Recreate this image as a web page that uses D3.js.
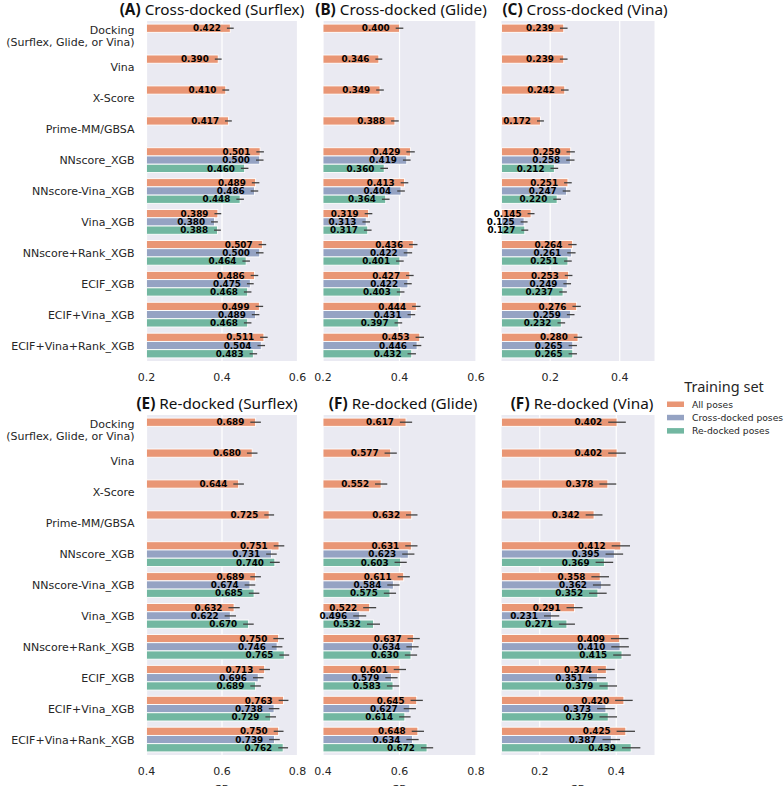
<!DOCTYPE html>
<html>
<head>
<meta charset="utf-8">
<script src="https://cdn.jsdelivr.net/npm/d3@7"></script>
<style>
  body { margin: 0; background: #fff; }
  #chart { width: 784px; height: 786px; }
</style>
</head>
<body>
<div id="chart"></div>
<script>
// categories (top to bottom) and training-set hues
const categories = [
  "Docking\n(Surflex, Glide, or Vina)", "Vina", "X-Score", "Prime-MM/GBSA",
  "NNscore_XGB", "NNscore-Vina_XGB", "Vina_XGB", "NNscore+Rank_XGB",
  "ECIF_XGB", "ECIF+Vina_XGB", "ECIF+Vina+Rank_XGB"
];
const hues = ["All poses", "Cross-docked poses", "Re-docked poses"];
const N = null;

// (A) Cross-docked (Surflex)
const aAll   = [0.422, 0.390, 0.410, 0.417, 0.501, 0.489, 0.389, 0.507, 0.486, 0.499, 0.511];
const aCross = [N, N, N, N, 0.500, 0.486, 0.380, 0.500, 0.475, 0.489, 0.504];
const aRe    = [N, N, N, N, 0.460, 0.448, 0.388, 0.464, 0.468, 0.468, 0.483];
const aErrAll   = [0.009, 0.009, 0.009, 0.009, 0.010, 0.010, 0.009, 0.010, 0.010, 0.010, 0.010];
const aErrCross = [N, N, N, N, 0.010, 0.010, 0.009, 0.010, 0.009, 0.010, 0.010];
const aErrRe    = [N, N, N, N, 0.010, 0.010, 0.009, 0.010, 0.010, 0.010, 0.010];

// (B) Cross-docked (Glide)
const bAll   = [0.400, 0.346, 0.349, 0.388, 0.429, 0.413, 0.319, 0.436, 0.427, 0.444, 0.453];
const bCross = [N, N, N, N, 0.419, 0.404, 0.313, 0.422, 0.422, 0.431, 0.446];
const bRe    = [N, N, N, N, 0.360, 0.364, 0.317, 0.401, 0.403, 0.397, 0.432];
const bErrAll   = [0.010, 0.009, 0.010, 0.010, 0.011, 0.010, 0.010, 0.011, 0.010, 0.011, 0.011];
const bErrCross = [N, N, N, N, 0.010, 0.010, 0.010, 0.011, 0.010, 0.010, 0.011];
const bErrRe    = [N, N, N, N, 0.010, 0.010, 0.010, 0.010, 0.010, 0.010, 0.011];

// (C) Cross-docked (Vina)
const cAll   = [0.239, 0.239, 0.242, 0.172, 0.259, 0.251, 0.145, 0.264, 0.253, 0.276, 0.280];
const cCross = [N, N, N, N, 0.258, 0.247, 0.125, 0.261, 0.249, 0.259, 0.265];
const cRe    = [N, N, N, N, 0.212, 0.220, 0.127, 0.251, 0.237, 0.232, 0.265];
const cErrAll   = [0.011, 0.011, 0.011, 0.010, 0.012, 0.011, 0.010, 0.012, 0.011, 0.012, 0.012];
const cErrCross = [N, N, N, N, 0.012, 0.011, 0.010, 0.012, 0.011, 0.011, 0.012];
const cErrRe    = [N, N, N, N, 0.011, 0.011, 0.010, 0.011, 0.011, 0.011, 0.012];

// (E) Re-docked (Surflex)
const eAll   = [0.689, 0.680, 0.644, 0.725, 0.751, 0.689, 0.632, 0.750, 0.713, 0.763, 0.750];
const eCross = [N, N, N, N, 0.731, 0.674, 0.622, 0.746, 0.696, 0.738, 0.739];
const eRe    = [N, N, N, N, 0.740, 0.685, 0.670, 0.765, 0.689, 0.729, 0.762];
const eErrAll   = [0.014, 0.014, 0.014, 0.013, 0.014, 0.014, 0.015, 0.014, 0.014, 0.013, 0.013];
const eErrCross = [N, N, N, N, 0.014, 0.014, 0.015, 0.014, 0.014, 0.014, 0.014];
const eErrRe    = [N, N, N, N, 0.013, 0.014, 0.014, 0.013, 0.014, 0.014, 0.013];

// (F) Re-docked (Glide)
const fAll   = [0.617, 0.577, 0.552, 0.632, 0.631, 0.611, 0.522, 0.637, 0.601, 0.645, 0.648];
const fCross = [N, N, N, N, 0.623, 0.584, 0.496, 0.634, 0.579, 0.627, 0.634];
const fRe    = [N, N, N, N, 0.603, 0.575, 0.532, 0.630, 0.583, 0.614, 0.672];
const fErrAll   = [0.016, 0.016, 0.016, 0.015, 0.016, 0.016, 0.017, 0.016, 0.016, 0.016, 0.016];
const fErrCross = [N, N, N, N, 0.016, 0.016, 0.017, 0.016, 0.016, 0.016, 0.016];
const fErrRe    = [N, N, N, N, 0.016, 0.016, 0.017, 0.016, 0.016, 0.015, 0.016];

// (F) Re-docked (Vina)
const gAll   = [0.402, 0.402, 0.378, 0.342, 0.412, 0.358, 0.291, 0.409, 0.374, 0.420, 0.425];
const gCross = [N, N, N, N, 0.395, 0.362, 0.231, 0.410, 0.351, 0.373, 0.387];
const gRe    = [N, N, N, N, 0.369, 0.352, 0.271, 0.415, 0.379, 0.379, 0.439];
const gErrAll   = [0.023, 0.023, 0.022, 0.022, 0.024, 0.023, 0.021, 0.023, 0.022, 0.023, 0.024];
const gErrCross = [N, N, N, N, 0.023, 0.023, 0.020, 0.023, 0.022, 0.023, 0.023];
const gErrRe    = [N, N, N, N, 0.023, 0.023, 0.021, 0.023, 0.023, 0.023, 0.024];

// axis ticks
const ticksCross = [0.2, 0.4, 0.6];
const ticksVina = [0.2, 0.4];
const ticksRe = [0.4, 0.6, 0.8];

const colors = ["#e99675", "#95a3c3", "#72b7a1"];

const panels = [
  { tag: "(A)", title: " Cross-docked (Surflex)", values: [aAll, aCross, aRe], errs: [aErrAll, aErrCross, aErrRe],
    domain: [0.2, 0.6], ticks: ticksCross, col: 0, row: 0, labels: true, tx: 212 },
  { tag: "(B)", title: " Cross-docked (Glide)", values: [bAll, bCross, bRe], errs: [bErrAll, bErrCross, bErrRe],
    domain: [0.2, 0.6], ticks: ticksCross, col: 1, row: 0, tx: 401 },
  { tag: "(C)", title: " Cross-docked (Vina)", values: [cAll, cCross, cRe], errs: [cErrAll, cErrCross, cErrRe],
    domain: [0.06, 0.5], ticks: ticksVina, col: 2, row: 0, tx: 585 },
  { tag: "(E)", title: " Re-docked (Surflex)", values: [eAll, eCross, eRe], errs: [eErrAll, eErrCross, eErrRe],
    domain: [0.4, 0.8], ticks: ticksRe, col: 0, row: 1, labels: true, tx: 217, xlabel: true },
  { tag: "(F)", title: " Re-docked (Glide)", values: [fAll, fCross, fRe], errs: [fErrAll, fErrCross, fErrRe],
    domain: [0.4, 0.8], ticks: ticksRe, col: 1, row: 1, tx: 403, xlabel: true },
  { tag: "(F)", title: " Re-docked (Vina)", values: [gAll, gCross, gRe], errs: [gErrAll, gErrCross, gErrRe],
    domain: [0.1, 0.5], ticks: ticksVina, col: 2, row: 1, tx: 582, xlabel: true },
];

const colX = [[146.5, 297.5], [323, 476], [501.5, 654.5]];
const rowY = [[21, 361], [415, 755]];

const svg = d3.select("#chart")
  .append("svg")
  .attr("width", 784)
  .attr("height", 786)
  .attr("font-family", "DejaVu Sans, sans-serif");

panels.forEach((p) => {
  const [x0, x1] = colX[p.col];
  const [y0, y1] = rowY[p.row];

  const x = d3.scaleLinear().domain(p.domain).range([x0, x1]);
  const y = d3.scaleBand().domain(categories).range([y0, y1])
    .paddingInner(0.2).paddingOuter(0.1);
  const yHue = d3.scaleBand().domain(hues).range([0, y.bandwidth()]);

  const g = svg.append("g");

  // background + grid
  g.append("rect")
    .attr("x", x0).attr("y", y0)
    .attr("width", x1 - x0).attr("height", y1 - y0)
    .attr("fill", "#eaeaf2");

  g.append("g")
    .selectAll("line")
    .data(p.ticks)
    .enter()
    .append("line")
    .attr("x1", (d) => x(d)).attr("x2", (d) => x(d))
    .attr("y1", y0).attr("y2", y1)
    .attr("stroke", "white")
    .attr("stroke-width", 1.2);

  // tick labels
  g.append("g")
    .selectAll("text")
    .data(p.ticks)
    .enter()
    .append("text")
    .attr("x", (d) => x(d))
    .attr("y", y1 + 20)
    .attr("text-anchor", "middle")
    .attr("font-size", 11)
    .attr("fill", "#262626")
    .text((d) => d.toFixed(1));

  // flatten bars
  const bars = [];
  categories.forEach((c, i) => {
    hues.forEach((h, j) => {
      const v = p.values[j][i];
      if (v === null) return;
      bars.push({ cat: c, hue: h, j: j, v: v, err: p.errs[j][i] });
    });
  });

  g.append("g")
    .selectAll("rect")
    .data(bars)
    .enter()
    .append("rect")
    .attr("x", x0)
    .attr("y", (d) => y(d.cat) + yHue(d.hue))
    .attr("width", (d) => x(d.v) - x0)
    .attr("height", yHue.bandwidth())
    .attr("fill", (d) => colors[d.j])
    .attr("stroke", "white")
    .attr("stroke-width", 0.9);

  // error bars
  g.append("g")
    .selectAll("line")
    .data(bars)
    .enter()
    .append("line")
    .attr("x1", (d) => x(d.v - d.err))
    .attr("x2", (d) => x(d.v + d.err))
    .attr("y1", (d) => y(d.cat) + yHue(d.hue) + yHue.bandwidth() / 2)
    .attr("y2", (d) => y(d.cat) + yHue(d.hue) + yHue.bandwidth() / 2)
    .attr("stroke", "#424242")
    .attr("stroke-width", 1.3);

  // value labels
  g.append("g")
    .selectAll("text")
    .data(bars)
    .enter()
    .append("text")
    .attr("x", (d) => x(d.v - d.err) - 6)
    .attr("y", (d) => y(d.cat) + yHue(d.hue) + yHue.bandwidth() / 2)
    .attr("dy", "0.36em")
    .attr("text-anchor", "end")
    .attr("font-size", 8.8)
    .attr("font-weight", "bold")
    .attr("fill", "black")
    .text((d) => d.v.toFixed(3));

  // category labels
  if (p.labels) {
    const lab = g.append("g")
      .selectAll("text")
      .data(categories)
      .enter()
      .append("text")
      .attr("text-anchor", "end")
      .attr("font-size", 11)
      .attr("fill", "#262626");
    lab.each(function (d) {
      const lines = d.split("\n");
      const cy = y(d) + y.bandwidth() / 2;
      lines.forEach((ln, k) => {
        d3.select(this).append("tspan")
          .attr("x", x0 - 12)
          .attr("y", cy + (k - (lines.length - 1) / 2) * 12)
          .attr("dy", "0.36em")
          .text(ln);
      });
    });
  }

  // title
  const t = g.append("text")
    .attr("x", p.tx)
    .attr("y", y0 - 6)
    .attr("text-anchor", "middle")
    .attr("font-family", "Noto Sans, sans-serif")
    .attr("font-size", 15.3)
    .attr("fill", "#111");
  t.append("tspan").attr("font-weight", "bold").text(p.tag);
  t.append("tspan").text(p.title);

  if (p.xlabel) {
    g.append("text")
      .attr("x", (x0 + x1) / 2)
      .attr("y", 793)
      .attr("text-anchor", "middle")
      .attr("font-size", 11)
      .attr("fill", "#262626")
      .text("SR");
  }
});

// legend
const legend = svg.append("g").attr("transform", "translate(667, 0)");
legend.append("text")
  .attr("x", 57)
  .attr("y", 392)
  .attr("text-anchor", "middle")
  .attr("font-family", "Noto Sans, sans-serif")
  .attr("font-size", 14.5)
  .attr("fill", "#262626")
  .text("Training set");

legend.selectAll("rect")
  .data(hues)
  .enter()
  .append("rect")
  .attr("x", 0)
  .attr("y", (d, i) => 401.5 + i * 13.3)
  .attr("width", 17)
  .attr("height", 5.5)
  .attr("fill", (d, i) => colors[i]);

legend.selectAll("text.item")
  .data(hues)
  .enter()
  .append("text")
  .attr("class", "item")
  .attr("x", 25)
  .attr("y", (d, i) => 404.2 + i * 13.3)
  .attr("dy", "0.36em")
  .attr("font-size", 9.2)
  .attr("fill", "#262626")
  .text((d) => d);
</script>
</body>
</html>
